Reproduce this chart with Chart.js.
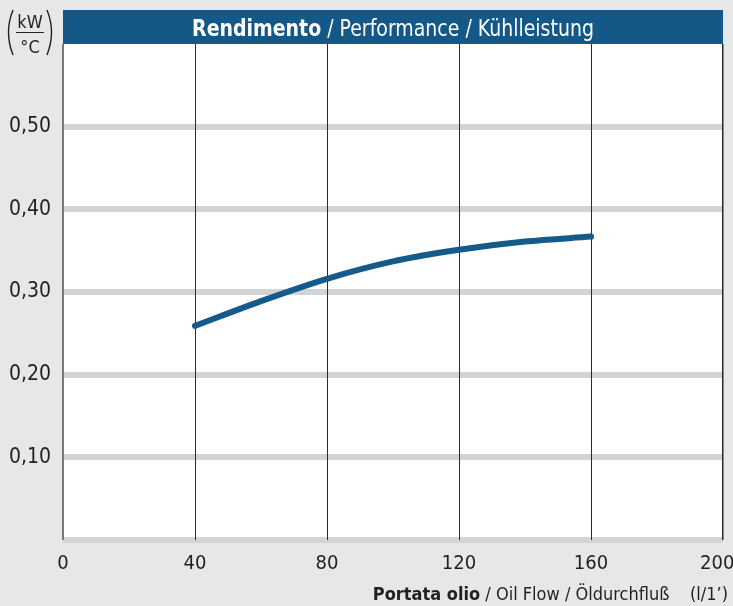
<!DOCTYPE html>
<html>
<head>
<meta charset="utf-8">
<script src="https://cdn.jsdelivr.net/npm/chart.js@4.4.0/dist/chart.umd.min.js"></script>
<style>
  html, body { margin: 0; padding: 0; background: #e6e7e8; }
</style>
</head>
<body>
<canvas id="perfChart" width="733" height="606"></canvas>
<script>
// data
const flowValues = [40, 60, 80, 100, 120, 140, 160];
const perfValues = [0.259, 0.289, 0.316, 0.337, 0.351, 0.361, 0.367];
const xTickValues = [0, 40, 80, 120, 160, 200];
const yTickValues = [0.1, 0.2, 0.3, 0.4, 0.5];

const titleBold = "Rendimento";
const titleRest = " / Performance / Kühlleistung";
const xTitleBold = "Portata olio";
const xTitleRest = " / Oil Flow / Öldurchfluß    (l/1’)";
const unitTop = "kW";
const unitBottom = "°C";

const FONT = '"Liberation Sans Narrow", "DejaVu Sans Condensed", "Liberation Sans", sans-serif';
const BLUE = "#135886";
const TEXT = "#231f20";

// draws background, header band, unit label and the mixed bold x title
const decor = {
    id: "decor",
    beforeDraw(chart) {
        const { ctx, chartArea: a } = chart;
        ctx.save();
        ctx.fillStyle = "#e6e7e8";
        ctx.fillRect(0, 0, chart.width, chart.height);
        ctx.fillStyle = "#ffffff";
        ctx.fillRect(a.left, a.top, a.right - a.left, a.bottom - a.top);
        ctx.restore();
    },
    afterDraw(chart) {
        const { ctx, chartArea: a } = chart;
        ctx.save();

        // header band, text squeezed a little to look condensed
        ctx.fillStyle = BLUE;
        ctx.fillRect(a.left, 10, a.right - a.left, a.top - 10);
        ctx.textBaseline = "alphabetic";
        ctx.font = "bold 23px " + FONT;
        const w1 = ctx.measureText(titleBold).width;
        ctx.font = "23px " + FONT;
        const w2 = ctx.measureText(titleRest).width;
        const sx = 0.915;
        const cx = (a.left + a.right) / 2;
        ctx.save();
        ctx.translate(cx, 36);
        ctx.scale(sx, 1);
        let x = -(w1 + w2) / 2;
        ctx.fillStyle = "#ffffff";
        ctx.font = "bold 23px " + FONT;
        ctx.fillText(titleBold, x, 0);
        ctx.font = "23px " + FONT;
        ctx.fillText(titleRest, x + w1, 0);
        ctx.restore();

        // x axis title, right aligned
        ctx.fillStyle = TEXT;
        ctx.font = "bold 18px " + FONT;
        const b1 = ctx.measureText(xTitleBold).width;
        ctx.font = "18px " + FONT;
        const b2 = ctx.measureText(xTitleRest).width;
        x = 728 - (b1 + b2);
        ctx.font = "bold 18px " + FONT;
        ctx.fillText(xTitleBold, x, 600);
        ctx.font = "18px " + FONT;
        ctx.fillText(xTitleRest, x + b1, 600);

        // unit kW / °C with brackets
        ctx.font = "18px " + FONT;
        ctx.textAlign = "center";
        ctx.fillText(unitTop, 30, 28);
        ctx.fillText(unitBottom, 30, 53);
        ctx.strokeStyle = TEXT;
        ctx.lineWidth = 1;
        ctx.beginPath();
        ctx.moveTo(16, 32.5);
        ctx.lineTo(44, 32.5);
        ctx.stroke();
        ctx.lineWidth = 1.4;
        ctx.beginPath();
        ctx.moveTo(13, 10);
        ctx.quadraticCurveTo(4, 32, 13, 55);
        ctx.moveTo(47, 10);
        ctx.quadraticCurveTo(56, 32, 47, 55);
        ctx.stroke();
        ctx.restore();
    }
};

const ctx = document.getElementById("perfChart").getContext("2d");

const perfChart = new Chart(ctx, {
    type: "line",
    data: {
        datasets: [{
            data: flowValues.map((f, i) => ({ x: f, y: perfValues[i] })),
            borderColor: "#145a8a",
            borderWidth: 6,
            borderCapStyle: "round",
            borderJoinStyle: "round",
            cubicInterpolationMode: "monotone",
            pointRadius: 0,
            fill: false
        }]
    },
    options: {
        responsive: false,
        animation: false,
        layout: { padding: { top: 44, right: 10, left: 0, bottom: 0 } },
        plugins: {
            legend: { display: false },
            tooltip: { enabled: false }
        },
        scales: {
            x: {
                type: "linear",
                min: 0,
                max: 200,
                afterFit: (s) => { s.height = 66; s.paddingLeft = 0; s.paddingRight = 0; },
                afterBuildTicks: (s) => { s.ticks = xTickValues.map(v => ({ value: v })); },
                border: { display: false },
                grid: {
                    z: -1,
                    drawTicks: false,
                    color: (c) => c.tick.value === 0 ? "#77787b" : "#2b2b2b",
                    lineWidth: (c) => c.tick.value === 0 ? 2 : (c.tick.value === 200 ? 1.5 : 1)
                },
                ticks: {
                    padding: 12,
                    color: TEXT,
                    font: { family: FONT, size: 20 },
                    maxRotation: 0,
                    // last label sits a bit left of the border so it is not cut
                    callback: (v) => v === 200 ? "200  " : String(v)
                }
            },
            y: {
                min: 0,
                max: 0.6,
                afterFit: (s) => { s.width = 63; s.paddingTop = 0; s.paddingBottom = 0; },
                afterBuildTicks: (s) => { s.ticks = [0].concat(yTickValues, [0.6]).map(v => ({ value: v })); },
                border: { display: false },
                grid: {
                    z: -2,
                    drawTicks: false,
                    color: (c) => c.tick.value > 0.55 ? "rgba(0,0,0,0)" : "#d1d3d4",
                    lineWidth: 6
                },
                ticks: {
                    padding: 12,
                    color: TEXT,
                    font: { family: FONT, size: 21 },
                    callback: (v) => (v > 0.05 && v < 0.55) ? v.toFixed(2).replace(".", ",") : ""
                }
            }
        }
    },
    plugins: [decor]
});
</script>
</body>
</html>
